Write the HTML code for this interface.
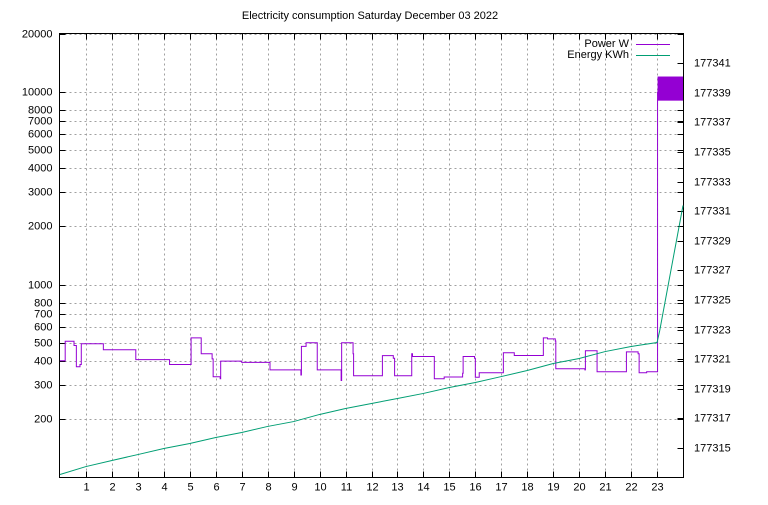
<!DOCTYPE html>
<html><head><meta charset="utf-8"><style>
body{margin:0;background:#fff;}
svg text{font-family:"Liberation Sans","DejaVu Sans",sans-serif;font-size:11px;fill:#000;}
</style></head><body>
<svg id="c" width="768" height="500" xmlns="http://www.w3.org/2000/svg"></svg>
<script>
const xTicks=[1,2,3,4,5,6,7,8,9,10,11,12,13,14,15,16,17,18,19,20,21,22,23];
const yTicks=[200,300,400,500,600,700,800,1000,2000,3000,4000,5000,6000,7000,8000,10000,20000];
const y2Ticks=[177315,177317,177319,177321,177323,177325,177327,177329,177331,177333,177335,177337,177339,177341];
const powerHours=[0,0.2,0.54,0.63,0.77,0.82,1.67,2.92,4.22,5.05,5.44,5.86,5.9,6.17,6.19,7.0,8.09,9.28,9.3,9.48,9.91,10.83,10.85,11.29,11.31,12.42,12.84,12.89,13.55,13.58,14.42,14.8,15.51,15.53,15.97,16.0,16.15,17.08,17.5,18.62,18.78,19.08,19.1,20.22,20.24,20.69,21.82,22.27,22.31,22.6,23.02];
const powerWatts=[403,508,483,375,385,493,459,408,385,529,438,412,333,325,401,395,361,340,478,499,361,318,499,438,337,428,415,337,438,424,325,332,347,424,415,331,349,443,429,529,523,510,366,361,454,353,448,438,349,353,10000];
const burstStart=23.02, burstEnd=24, burstLow=8975, burstHigh=11970;
const energyHours=[0,1,2,3,4,5,6,7,8,9,10,11,12,13,14,15,16,17,18,19,20,21,22,23,23.1,24];
const energyKWh=[177313.2,177313.74,177314.15,177314.55,177314.96,177315.3,177315.7,177316.04,177316.45,177316.78,177317.26,177317.66,177318.0,177318.34,177318.68,177319.08,177319.42,177319.82,177320.23,177320.7,177321.04,177321.51,177321.85,177322.12,177322.9,177331.38];

const L=59.5,R=683.5,T=33.5,B=477.5;
const X=h=>60+h*(623/24);
const Y=w=>B-(Math.log10(w)-2)/(Math.log10(20000)-2)*(B-T);
const Y2=v=>B-(v-177313)/30*(B-T);
const svg=document.getElementById('c');const NS='http://www.w3.org/2000/svg';
function mk(t,a,p){const e=document.createElementNS(NS,t);for(const k in a)e.setAttribute(k,a[k]);(p||svg).appendChild(e);return e;}

let t=mk('text',{x:370,y:19,'text-anchor':'middle'});t.textContent='Electricity consumption Saturday December 03 2022';



const grid=mk('g',{stroke:'#a0a0a0','stroke-dasharray':'2,3','stroke-width':1});


xTicks.forEach(h=>{const x=Math.round(X(h))+0.5;mk('line',{x1:x,x2:x,y1:T,y2:B},grid);});
yTicks.forEach(w=>{const y=Math.round(Y(w))+0.5;mk('line',{x1:L,x2:R,y1:y,y2:y},grid);});

const ax=mk('g',{stroke:'#000','stroke-width':1});


mk('rect',{x:L,y:T,width:R-L,height:B-T,fill:'none'},ax);
xTicks.forEach(h=>{const x=Math.round(X(h))+0.5;mk('line',{x1:x,x2:x,y1:B,y2:B-6},ax);mk('line',{x1:x,x2:x,y1:T,y2:T+6},ax);
 const l=mk('text',{x:x,y:B+13,'text-anchor':'middle',stroke:'none'});l.textContent=h;
 
 });
yTicks.forEach(w=>{const y=Math.round(Y(w))+0.5;mk('line',{x1:L,x2:L+6,y1:y,y2:y},ax);mk('line',{x1:R,x2:R-6,y1:y,y2:y},ax);
 const l=mk('text',{x:L-7,y:y+3,'text-anchor':'end',stroke:'none'});l.textContent=w;
 
 });
y2Ticks.forEach(v=>{const y=Math.round(Y2(v))+0.5;mk('line',{x1:R,x2:R-6,y1:y,y2:y},ax);
 const l=mk('text',{x:694,y:y+3,'text-anchor':'start',stroke:'none'});l.textContent=v;
 
 });

let d='';
powerHours.forEach((h,i)=>{const x=X(h),y=Y(powerWatts[i]);
 if(i===0)d+='M'+x+','+y;else d+='L'+x+','+Y(powerWatts[i-1])+'L'+x+','+y;});
d+='L'+X(burstStart)+','+Y(burstLow);
const pl=mk('path',{d:d,fill:'none',stroke:'#9400d3','stroke-width':1});


const br=mk('rect',{x:X(burstStart),y:Y(burstHigh),width:X(burstEnd)-X(burstStart),height:Y(burstLow)-Y(burstHigh),fill:'#9400d3'});



const ep=energyHours.map((h,i)=>X(h)+','+Y2(energyKWh[i])).join(' ');
const el=mk('polyline',{points:ep,fill:'none',stroke:'#009e73','stroke-width':1});



const lg=mk('g',{});


let a=mk('text',{x:629,y:47,'text-anchor':'end'},lg);a.textContent='Power W';
mk('line',{x1:636,x2:670,y1:44.5,y2:44.5,stroke:'#9400d3'},lg);
let b=mk('text',{x:629,y:58,'text-anchor':'end'},lg);b.textContent='Energy KWh';
mk('line',{x1:636,x2:670,y1:55.5,y2:55.5,stroke:'#009e73'},lg);
</script>
</body></html>
